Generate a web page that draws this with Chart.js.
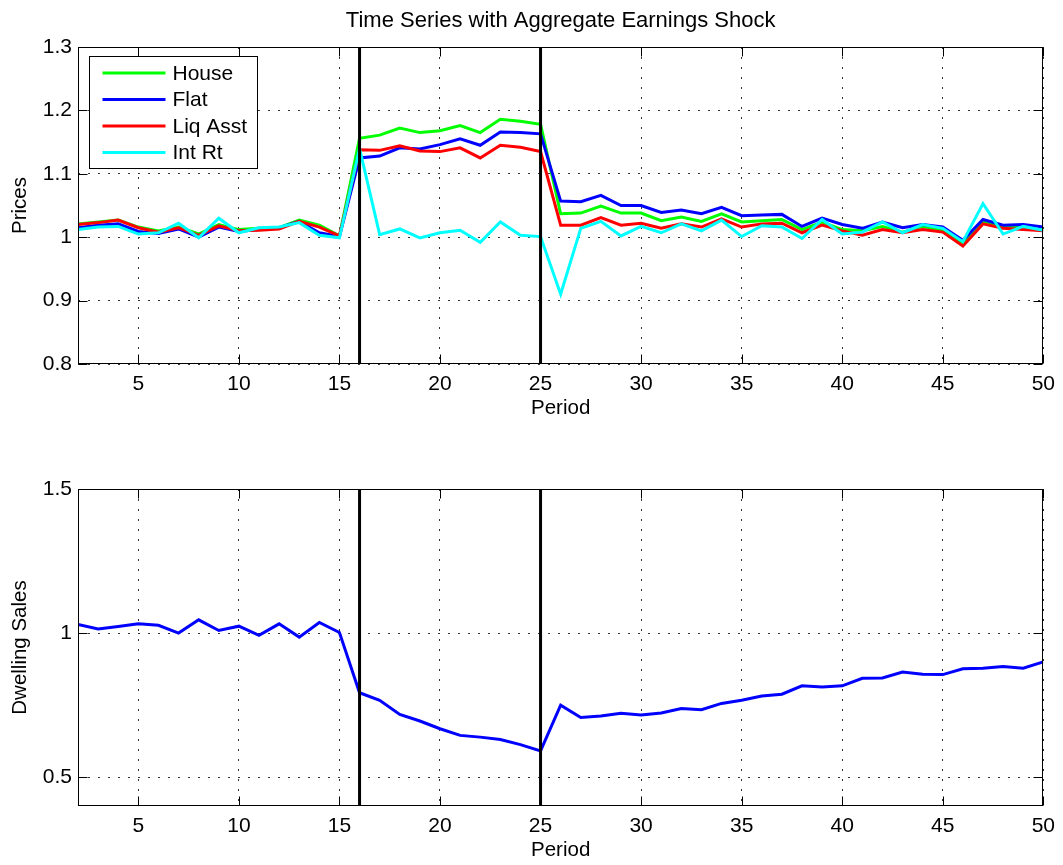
<!DOCTYPE html>
<html><head><meta charset="utf-8">
<script src="https://cdn.jsdelivr.net/npm/chart.js@4.4.0/dist/chart.umd.min.js"></script>
<style>
html,body{margin:0;padding:0;background:#fff;width:1063px;height:865px;overflow:hidden}
#c1{position:absolute;left:0;top:0}
#c2{position:absolute;left:0;top:430px}
</style></head><body>
<canvas id="c1" width="1063" height="430"></canvas>
<canvas id="c2" width="1063" height="435"></canvas>
<script>
const periods = [2,3,4,5,6,7,8,9,10,11,12,13,14,15,16,17,18,19,20,21,22,23,24,25,26,27,28,29,30,31,32,33,34,35,36,37,38,39,40,41,42,43,44,45,46,47,48,49,50];
const house = [1.021,1.024,1.027,1.016,1.010,1.016,1.005,1.020,1.012,1.014,1.015,1.027,1.019,1.002,
  1.156,1.161,1.172,1.165,1.168,1.176,1.165,1.186,1.183,1.178,
  1.037,1.038,1.049,1.038,1.038,1.026,1.032,1.025,1.037,1.024,1.026,1.028,1.012,
  1.024,1.012,1.010,1.017,1.008,1.017,1.011,0.991,1.024,1.016,1.016,1.011];
const flat = [1.015,1.019,1.021,1.009,1.006,1.013,1.000,1.016,1.009,1.012,1.015,1.025,1.007,1.001,
  1.125,1.128,1.141,1.139,1.146,1.155,1.145,1.166,1.165,1.163,
  1.057,1.056,1.066,1.050,1.050,1.039,1.043,1.037,1.047,1.034,1.035,1.036,1.017,
  1.030,1.020,1.014,1.024,1.015,1.020,1.016,0.995,1.028,1.019,1.020,1.016];
const liqAsst = [1.020,1.023,1.027,1.015,1.008,1.015,1.003,1.018,1.010,1.011,1.013,1.025,1.016,1.002,
  1.138,1.137,1.144,1.136,1.135,1.141,1.125,1.145,1.142,1.135,
  1.019,1.019,1.031,1.019,1.022,1.014,1.021,1.016,1.029,1.016,1.021,1.022,1.007,
  1.019,1.010,1.003,1.012,1.007,1.012,1.008,0.986,1.021,1.014,1.012,1.010];
const intRt = [1.012,1.016,1.017,1.005,1.007,1.022,0.999,1.030,1.007,1.015,1.016,1.023,1.003,0.999,
  1.140,1.004,1.013,0.999,1.007,1.011,0.992,1.024,1.003,1.001,
  0.910,1.014,1.025,1.002,1.017,1.007,1.021,1.010,1.027,1.001,1.018,1.016,0.998,
  1.028,1.005,1.008,1.024,1.007,1.020,1.014,0.993,1.053,1.005,1.017,1.011];
const dwellingSales = [1.030,1.014,1.023,1.032,1.027,1.000,1.046,1.009,1.024,0.992,1.032,0.986,1.037,1.002,
  0.793,0.767,0.718,0.695,0.668,0.645,0.639,0.631,0.613,0.591,
  0.750,0.707,0.712,0.722,0.716,0.723,0.738,0.734,0.756,0.767,0.782,0.788,0.817,
  0.813,0.817,0.843,0.844,0.865,0.857,0.856,0.876,0.878,0.884,0.878,0.900];
const shockPeriods = [16, 25];
const xRange = [2, 50];
const xTickVals = [5,10,15,20,25,30,35,40,45,50];
const xTickLabels = ['5','10','15','20','25','30','35','40','45','50'];
const priceRange = [0.8, 1.3];
const priceTickVals = [0.8,0.9,1.0,1.1,1.2,1.3];
const priceTickLabels = ['0.8','0.9','1','1.1','1.2','1.3'];
const salesRange = [0.4, 1.5];
const salesTickVals = [0.5,1.0,1.5];
const salesTickLabels = ['0.5','1','1.5'];
const seriesNames = ['House','Flat','Liq Asst','Int Rt'];
const seriesColors = ['#00ff00','#0000ff','#ff0000','#00ffff'];

const FONT = "'Liberation Sans', Arial, Helvetica, sans-serif";
Chart.defaults.font.family = FONT;
Chart.defaults.color = '#000';

function pts(vals){ return periods.map((p,i)=>({x:p, y:vals[i]})); }
function shockSets(range){
  return shockPeriods.map(p=>({label:'_shock', data:[{x:p,y:range[0]},{x:p,y:range[1]}],
    borderColor:'#000', borderWidth:3, pointRadius:0, order:0, tension:0}));
}

const framePlugin = {
  id:'frame',
  afterDatasetsDraw(chart){
    const {ctx, chartArea:a, scales:{x,y}} = chart;
    const L=Math.round(a.left)+0.5, R=Math.round(a.right)-0.5, T=Math.round(a.top)+0.5, B=Math.round(a.bottom)-0.5;
    ctx.save();
    ctx.strokeStyle='#000'; ctx.lineWidth=1; ctx.setLineDash([]);
    ctx.strokeRect(L,T,R-L,B-T);
    const tl=9;
    ctx.beginPath();
    x.ticks.forEach(t=>{ const px=Math.round(x.getPixelForValue(t.value))+0.5;
      ctx.moveTo(px,B); ctx.lineTo(px,B-tl); ctx.moveTo(px,T); ctx.lineTo(px,T+tl); });
    y.ticks.forEach(t=>{ const py=Math.round(y.getPixelForValue(t.value))+0.5;
      ctx.moveTo(L,py); ctx.lineTo(L+tl,py); ctx.moveTo(R,py); ctx.lineTo(R-tl,py); });
    ctx.stroke();
    const lg = chart.options.plugins.frame && chart.options.plugins.frame.legend;
    if (lg) {
      const bx=Math.round(a.left)+11.5, by=Math.round(a.top)+9.5, bw=168, bh=112;
      ctx.fillStyle='#fff'; ctx.fillRect(bx,by,bw,bh);
      ctx.strokeStyle='#000'; ctx.lineWidth=1; ctx.strokeRect(bx,by,bw,bh);
      ctx.font = "21px " + FONT; ctx.textBaseline='middle'; ctx.textAlign='left';
      chart.data.datasets.filter(d=>d.label!=='_shock').forEach((d,i)=>{
        const ly = by + 16.5 + i*26.5;
        ctx.strokeStyle=d.borderColor; ctx.lineWidth=3; ctx.beginPath();
        ctx.moveTo(bx+13,ly); ctx.lineTo(bx+76,ly); ctx.stroke();
        ctx.fillStyle='#000'; ctx.fillText(d.label, bx+83, ly+1);
      });
    }
    ctx.restore();
  }
};

function xScale(titlePadBottom, h){
  return {type:'linear', min:xRange[0], max:xRange[1],
    afterBuildTicks:s=>{ s.ticks = xTickVals.map(v=>({value:v})); },
    afterFit:s=>{ s.height = h; },
    ticks:{font:{size:21}, color:'#000', padding:8, maxRotation:0, autoSkip:false,
      callback:(v,i)=>xTickLabels[i]},
    grid:{color:'#333', lineWidth:1, drawTicks:false},
    border:{display:false, dash:[2,8]},
    title:{display:true, text:'Period', font:{size:20.5, lineHeight:1.2}, color:'#000', padding:{top:0,bottom:titlePadBottom}}
  };
}
function yScale(range, vals, labels, title){
  return {type:'linear', min:range[0], max:range[1],
    afterBuildTicks:s=>{ s.ticks = vals.map(v=>({value:v})); },
    afterFit:s=>{ s.width = 78; },
    ticks:{font:{size:21}, color:'#000', padding:6, autoSkip:false, callback:(v,i)=>labels[i]},
    grid:{color:'#333', lineWidth:1, drawTicks:false},
    border:{display:false, dash:[2,8]},
    title:{display:true, text:title, font:{size:20.5, lineHeight:1.2}, color:'#000', padding:{top:8,bottom:0}}
  };
}

const priceSets = [house, flat, liqAsst, intRt].map((v,i)=>({
  label:seriesNames[i], data:pts(v), borderColor:seriesColors[i], backgroundColor:seriesColors[i],
  borderWidth:3, pointRadius:0, tension:0, order:4-i
}));

new Chart(document.getElementById('c1'), {
  type:'line',
  data:{datasets:[...priceSets, ...shockSets(priceRange)]},
  options:{responsive:false, animation:false, devicePixelRatio:1,
    layout:{padding:{left:0,right:19,top:0,bottom:0}},
    plugins:{legend:{display:false}, tooltip:{enabled:false},
      title:{display:true, fullSize:false, text:'Time Series with Aggregate Earnings Shock', color:'#000',
        font:{size:22, weight:'normal', lineHeight:1.2}, padding:{top:8,bottom:12.6}},
      frame:{legend:true}},
    scales:{x:xScale(9, 66), y:yScale(priceRange, priceTickVals, priceTickLabels, 'Prices')}
  },
  plugins:[framePlugin]
});

new Chart(document.getElementById('c2'), {
  type:'line',
  data:{datasets:[{label:'Dwelling Sales', data:pts(dwellingSales), borderColor:'#0000ff', borderWidth:3, pointRadius:0, tension:0, order:1},
    ...shockSets(salesRange)]},
  options:{responsive:false, animation:false, devicePixelRatio:1,
    layout:{padding:{left:0,right:19,top:59,bottom:0}},
    plugins:{legend:{display:false}, tooltip:{enabled:false}, frame:{legend:false}},
    scales:{x:xScale(2, 59), y:yScale(salesRange, salesTickVals, salesTickLabels, 'Dwelling Sales')}
  },
  plugins:[framePlugin]
});
</script>
</body></html>
